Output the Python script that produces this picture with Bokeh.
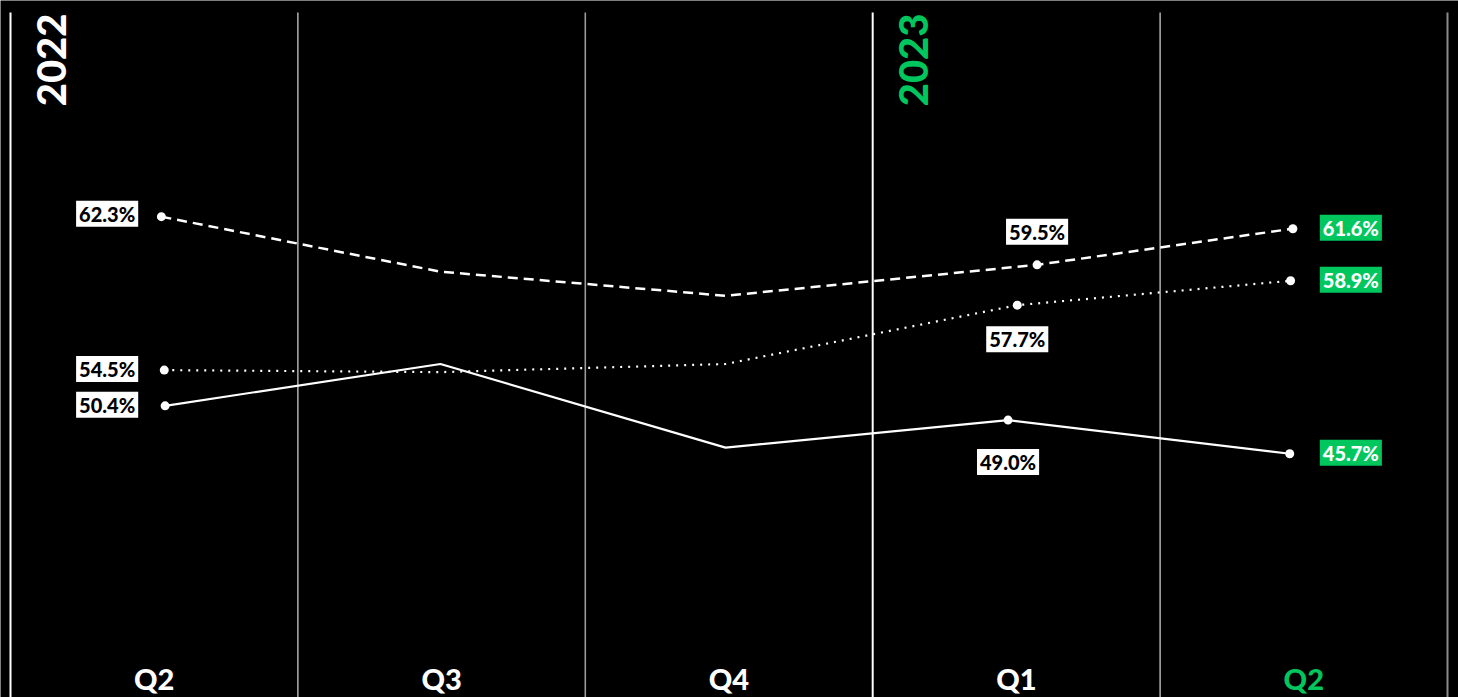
import math
from bokeh.plotting import figure
from bokeh.models import Range1d
from bokeh.core.properties import value
from bokeh.embed import file_html
from bokeh.resources import INLINE

# ---------------- data ----------------
quarters = ["Q2", "Q3", "Q4", "Q1", "Q2"]
quarter_pos = [0, 1, 2, 3, 4]
years = ["2022", "2023"]
year_start = [-0.5, 2.5]

# point positions (quarter index, as drawn) and values (%)
dashed_x = [0.025, 0.996, 1.988, 3.072, 3.962]
dashed_y = [62.3, 59.1, 57.7, 59.5, 61.6]
dotted_x = [0.035, 0.996, 1.988, 3.003, 3.954]
dotted_y = [54.5, 54.4, 54.8, 57.7, 58.9]
solid_x = [0.038, 0.996, 1.988, 2.971, 3.951]
solid_y = [50.4, 54.5, 46.3, 49.0, 45.7]
labeled_idx = [0, 3, 4]

# ---------------- style ----------------
GREEN = "#00c65e"
FONT_HEAVY = value("Lato Black")
FONT_LABEL = value("Lato Heavy")
W, H = 1458, 697
PAD = dict(left=3, right=3, top=1, bottom=1)

p = figure(width=W, height=H, output_backend="svg", toolbar_location=None,
           x_range=Range1d(-0.5348, 4.5383), y_range=Range1d(0, H),
           background_fill_color="black", border_fill_color="black",
           min_border=0, outline_line_color=None)
p.axis.visible = False
p.grid.visible = False

series = [
    dict(name="dashed", x=dashed_x, y=dashed_y, dash="10 6", width=2.5, rng=(34.34, 74.87), q1_dy=-33, dy=-3),
    dict(name="dotted", x=dotted_x, y=dotted_y, dash="2 6", width=2.2, rng=(38.37, 72.71), q1_dy=34, dy=-1),
    dict(name="solid", x=solid_x, y=solid_y, dash="solid", width=2.2, rng=(21.80, 90.14), q1_dy=42, dy=-1),
]
for s in series:
    p.extra_y_ranges[s["name"]] = Range1d(*s["rng"])

# vertical dividers
bounds = [-0.5, 0.5, 1.5, 2.5, 3.5, 4.5]
bcolors = ["#ffffff", "#dddddd", "#9a9a9a", "#ffffff", "#dddddd", "#8a8a8a"]
bwidths = [2, 1.2, 1.6, 2, 1.2, 2]
p.segment(x0=bounds, x1=bounds, y0=[0] * 6, y1=[H - 12] * 6,
          line_color=bcolors, line_width=bwidths)

# lines, points, labels
for s in series:
    rn = s["name"]
    p.line(s["x"], s["y"], y_range_name=rn, line_color="white",
           line_width=s["width"], line_dash=s["dash"])
    px = [s["x"][i] for i in labeled_idx]
    py = [s["y"][i] for i in labeled_idx]
    p.scatter(px, py, y_range_name=rn, size=9, fill_color="white", line_color=None)

    common = dict(y_range_name=rn, text_baseline="middle", text_font=FONT_LABEL,
                  text_font_style="normal", text_font_size="20px", padding=PAD)
    # 2022 Q2 label (left)
    v = s["y"][0]
    p.text(x=[quarter_pos[0]], y=[v], text=[f"{v:.1f}%"], x_offset=-16, y_offset=s["dy"],
           text_align="right", text_color="black", background_fill_color="white", **common)
    # 2023 Q1 label
    v = s["y"][3]
    p.text(x=[s["x"][3]], y=[v], text=[f"{v:.1f}%"], y_offset=s["q1_dy"],
           text_align="center", text_color="black", background_fill_color="white", **common)
    # 2023 Q2 label (right, green)
    v = s["y"][4]
    p.text(x=[quarter_pos[4]], y=[v], text=[f"{v:.1f}%"], x_offset=16, y_offset=-1,
           text_align="left", text_color="white", background_fill_color=GREEN, **common)

# year labels (rotated)
p.text(x=year_start, y=[H - 13] * 2, text=years, angle=math.pi / 2,
       x_offset=41, text_align="right", text_baseline="middle",
       text_font=FONT_HEAVY, text_font_style="normal", text_font_size="40px",
       text_color=["white", GREEN])

# quarter labels
p.text(x=quarter_pos, y=[19] * 5, text=quarters, text_align="center",
       text_baseline="middle", text_font=FONT_HEAVY, text_font_style="normal",
       text_font_size="29px", text_color=["white"] * 4 + [GREEN])

open("out.html", "w").write(file_html(p, INLINE))
